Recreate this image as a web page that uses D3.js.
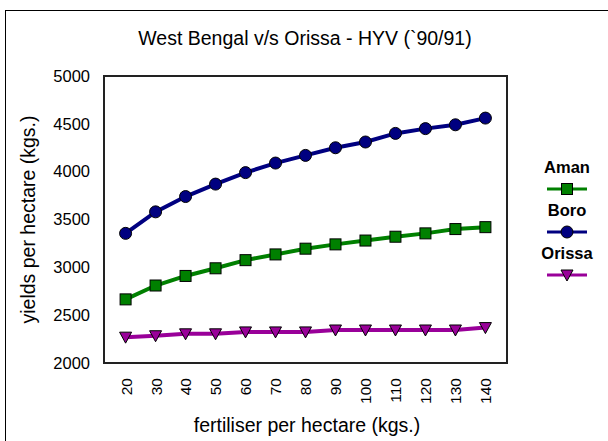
<!doctype html>
<html>
  <head>
    <meta charset="utf-8"/>
    <title>West Bengal v/s Orissa - HYV</title>
    <style>
      body, html {
        margin: 0;
        padding: 0;
        background: white;
        font-family: "Liberation Sans", Arial, sans-serif;
      }
      svg text { fill: black; }
    </style>
    <script src="https://d3js.org/d3.v7.min.js"></script>
  </head>
  <body>
    <svg width="608" height="441"></svg>
    <script>
      // fertiliser doses (kgs. per hectare)
      var doses = [20, 30, 40, 50, 60, 70, 80, 90, 100, 110, 120, 130, 140];

      // yields per hectare (kgs.)
      var aman   = [2665, 2810, 2910, 2990, 3075, 3135, 3195, 3240, 3280, 3320, 3355, 3400, 3420];
      var boro   = [3355, 3580, 3740, 3870, 3990, 4090, 4170, 4250, 4310, 4400, 4450, 4490, 4560];
      var orissa = [2270, 2285, 2305, 2305, 2325, 2325, 2325, 2345, 2345, 2345, 2345, 2345, 2370];

      var yTicks = [2000, 2500, 3000, 3500, 4000, 4500, 5000];

      var series = [
        {name: "Aman",   values: aman,   color: "#008000", shape: "square"},
        {name: "Boro",   values: boro,   color: "#000080", shape: "circle"},
        {name: "Orissa", values: orissa, color: "#990099", shape: "triangle"}
      ];

      var font = "\"Liberation Sans\", Arial, sans-serif";

      var svg = d3.select("svg"),
          margin = {top: 76, left: 104, right: 101, bottom: 78},
          width = +svg.attr("width") - margin.left - margin.right,
          height = +svg.attr("height") - margin.top - margin.bottom;

      // outer chart frame (runs off the right and bottom of the picture)
      svg.append("rect")
        .attr("x", 5.5).attr("y", 10.5)
        .attr("width", 620).attr("height", 460)
        .attr("fill", "none")
        .attr("stroke", "black")
        .attr("stroke-width", 1);

      svg.append("text")
        .attr("x", 305).attr("y", 45)
        .attr("text-anchor", "middle")
        .style("font-size", "19.5px")
        .text("West Bengal v/s Orissa - HYV (`90/91)");

      var x = d3.scalePoint().domain(doses).range([0, width]).padding(0.72),
          y = d3.scaleLinear().domain([2000, 5000]).range([height, 0]);

      var g = svg.append("g")
        .attr("transform", "translate(" + margin.left + "," + margin.top + ")");

      // plot frame
      g.append("rect")
        .attr("width", width).attr("height", height)
        .attr("fill", "none")
        .attr("stroke", "#222")
        .attr("stroke-width", 2);

      var yAxis = g.append("g")
        .call(d3.axisLeft(y).tickValues(yTicks).tickFormat(d3.format("d"))
          .tickSize(0).tickPadding(14));
      yAxis.select(".domain").remove();
      yAxis.selectAll("text")
        .style("font-size", "16.5px")
        .style("font-family", font);

      var xAxis = g.append("g")
        .attr("transform", "translate(0," + height + ")")
        .call(d3.axisBottom(x).tickSize(0));
      xAxis.select(".domain").remove();
      xAxis.selectAll("text")
        .style("font-size", "15.5px")
        .style("font-family", font)
        .attr("text-anchor", "end")
        .attr("transform", "rotate(-90)")
        .attr("x", -15)
        .attr("y", 0)
        .attr("dy", "0.35em");

      svg.append("text")
        .attr("x", 307).attr("y", 432)
        .attr("text-anchor", "middle")
        .style("font-size", "19.5px")
        .text("fertiliser per hectare (kgs.)");

      svg.append("text")
        .attr("transform", "translate(35," + (margin.top + height / 2) + ") rotate(-90)")
        .attr("text-anchor", "middle")
        .style("font-size", "19.5px")
        .text("yields per hectare (kgs.)");

      var line = d3.line()
        .x(function(d, i) { return x(doses[i]); })
        .y(function(d) { return y(d); });

      function marker(sel, shape, color) {
        if (shape === "square") {
          sel.append("rect")
            .attr("x", -5.5).attr("y", -5.5)
            .attr("width", 11).attr("height", 11)
            .attr("fill", color).attr("stroke", "black").attr("stroke-width", 1);
        } else if (shape === "circle") {
          sel.append("circle")
            .attr("r", 6)
            .attr("fill", color).attr("stroke", "black").attr("stroke-width", 1);
        } else {
          sel.append("path")
            .attr("d", "M-6,-5L6,-5L0,6Z")
            .attr("fill", color).attr("stroke", "black").attr("stroke-width", 1);
        }
      }

      series.forEach(function(s) {
        g.append("path")
          .datum(s.values)
          .attr("fill", "none")
          .attr("stroke", s.color)
          .attr("stroke-width", 4)
          .attr("d", line);

        g.selectAll(".pt-" + s.shape)
          .data(s.values)
          .enter().append("g")
            .attr("class", "pt-" + s.shape)
            .attr("transform", function(d, i) {
              return "translate(" + x(doses[i]) + "," + y(d) + ")";
            })
            .each(function() { marker(d3.select(this), s.shape, s.color); });
      });

      // legend
      var legend = svg.append("g").attr("transform", "translate(567,0)");
      series.forEach(function(s, i) {
        var top = 173 + i * 43;
        legend.append("text")
          .attr("x", 0).attr("y", top)
          .attr("text-anchor", "middle")
          .style("font-size", "16.5px")
          .style("font-weight", "bold")
          .text(s.name);
        legend.append("line")
          .attr("x1", -20).attr("x2", 20)
          .attr("y1", top + 16).attr("y2", top + 16)
          .attr("stroke", s.color)
          .attr("stroke-width", 3);
        var m = legend.append("g").attr("transform", "translate(0," + (top + 16) + ")");
        marker(m, s.shape, s.color);
      });
    </script>
  </body>
</html>
